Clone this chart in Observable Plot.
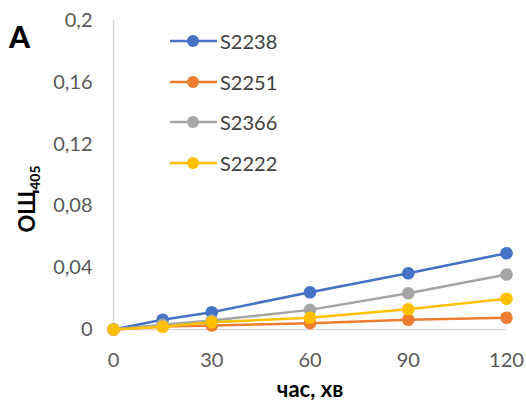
<!DOCTYPE html>
<html><head><meta charset="utf-8">
<script src="https://cdn.jsdelivr.net/npm/d3@7"></script>
<script src="https://cdn.jsdelivr.net/npm/@observablehq/plot@0.6"></script>
<style>
body{margin:0;background:#fff;}
#wrap{position:relative;width:526px;height:403px;font-family:Lato,"Open Sans",sans-serif;}
#legend{position:absolute;left:170px;top:21px;font-size:20px;color:#404040;z-index:2;}
.row{display:flex;align-items:center;height:40.5px;}
.row svg{margin-right:3px;}
</style></head>
<body><div id="wrap"><div id="legend"></div></div>
<script>
const times = [0, 15, 30, 60, 90, 120];
const seriesNames = ["S2238", "S2251", "S2366", "S2222"];
const s2238 = [0, 0.0063, 0.0112, 0.0241, 0.0364, 0.0494];
const s2251 = [0, 0.0020, 0.0026, 0.0041, 0.0063, 0.0076];
const s2366 = [0, 0.0030, 0.0058, 0.0127, 0.0235, 0.0356];
const s2222 = [0, 0.0018, 0.0047, 0.0076, 0.0131, 0.0199];
const colors = ["#4472C4", "#ED7D31", "#A5A5A5", "#FFC000"];
const yTicks = [0, 0.04, 0.08, 0.12, 0.16, 0.2];
const xTicks = [0, 30, 60, 90, 120];

const allSeries = [s2238, s2251, s2366, s2222];
const data = [];
allSeries.forEach((vals, i) => vals.forEach((v, j) => data.push({series: seriesNames[i], t: times[j], v})));

const fmt = d => d === 0 ? "0" : String(+d.toFixed(2)).replace(".", ",");

const marks = [
  Plot.ruleX([0], {y1: 0, y2: 0.2, stroke: "#d9d9d9", strokeWidth: 1.5}),
  Plot.ruleY([0], {stroke: "#d9d9d9", strokeWidth: 1.5}),
  Plot.axisY({ticks: yTicks, tickFormat: fmt, tickSize: 0, tickPadding: 21, label: null, fill: "#595959"}),
  Plot.axisX({ticks: xTicks, tickSize: 0, tickPadding: 23, label: null, fill: "#595959"})
];
seriesNames.forEach((s, i) => {
  const d = data.filter(r => r.series === s);
  marks.push(Plot.line(d, {x: "t", y: "v", stroke: colors[i], strokeWidth: 2.5}));
  marks.push(Plot.dot(d, {x: "t", y: "v", fill: colors[i], r: 6.3}));
});

const chart = Plot.plot({
  width: 526, height: 403,
  marginLeft: 113, marginRight: 20, marginTop: 20, marginBottom: 74,
  style: {fontFamily: "Lato, 'Open Sans', sans-serif", fontSize: "20px", background: "#fff", overflow: "visible"},
  x: {domain: [0, 120]},
  y: {domain: [0, 0.2]},
  marks
});
const svg = d3.select(chart);
svg.append("text").attr("x", 310).attr("y", 397).attr("text-anchor", "middle")
  .attr("font-weight", "bold").attr("font-size", 22).attr("fill", "#000").text("час, хв");
const yl = svg.append("text").attr("transform", "translate(35,199) rotate(-90)").attr("text-anchor", "middle")
  .attr("font-weight", "bold").attr("font-size", 22).attr("fill", "#000");
yl.append("tspan").text("ОЩ");
yl.append("tspan").attr("font-size", 14).attr("dy", 5).text("405");
svg.append("text").attr("x", 9).attr("y", 48).attr("text-anchor", "start").attr("font-weight", 900).attr("font-size", 30)
  .attr("fill", "#000").text("A");
document.getElementById("wrap").prepend(chart);
chart.style.position = "absolute"; chart.style.left = "0"; chart.style.top = "0";

const leg = d3.select("#legend");
seriesNames.forEach((s, i) => {
  const row = leg.append("div").attr("class", "row");
  const sv = row.append("svg").attr("width", 47).attr("height", 14);
  sv.append("line").attr("x1", 0).attr("x2", 47).attr("y1", 7).attr("y2", 7).attr("stroke", colors[i]).attr("stroke-width", 2.5);
  sv.append("circle").attr("cx", 23).attr("cy", 7).attr("r", 6).attr("fill", colors[i]);
  row.append("span").text(s);
});
</script></body></html>
